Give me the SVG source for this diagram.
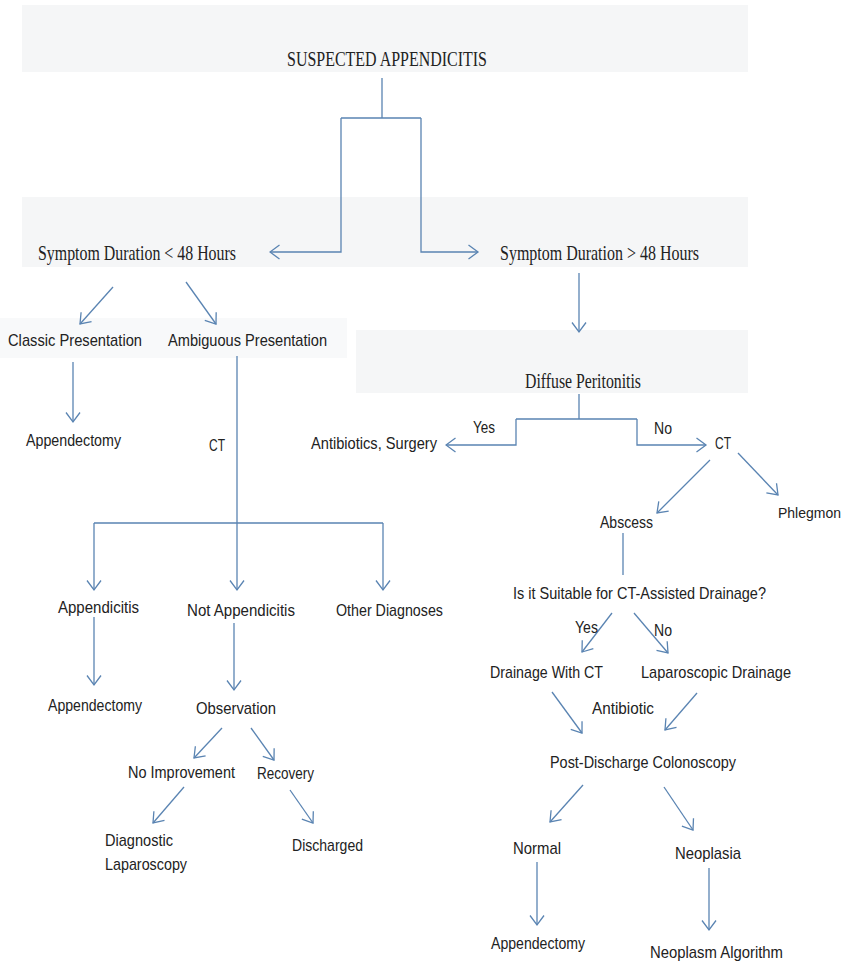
<svg xmlns="http://www.w3.org/2000/svg" width="847" height="963" viewBox="0 0 847 963">
  <style>
    .band { fill: #f5f6f7; }
    .bandf { fill: #f8f9fa; }
    .serif { font-family: "Liberation Serif", "Times New Roman", serif; font-size: 21px; fill: #222222; }
    .sans { font-family: "Liberation Sans", Arial, sans-serif; font-size: 17px; fill: #222222; }
    .small { font-size: 14px; }
    .ln { fill: none; stroke: #5a84b2; stroke-width: 1.3; }
    .arr { fill: none; stroke: #5a84b2; stroke-width: 1.3; marker-end: url(#ah); }
  </style>
  <defs>
    <marker id="ah" viewBox="0 0 12 16" refX="10.5" refY="8" markerWidth="12" markerHeight="16" markerUnits="userSpaceOnUse" orient="auto">
      <path d="M1,1 L10.5,8 L1,15" fill="none" stroke="#5a84b2" stroke-width="1.3"/>
    </marker>
  </defs>

  <rect width="847" height="963" fill="#ffffff"/>

  <!-- shaded background bands -->
  <rect class="band" x="22" y="5" width="726" height="67"/>
  <rect class="band" x="22" y="197" width="726" height="70"/>
  <rect class="bandf" x="0" y="318" width="347" height="40"/>
  <rect class="band" x="356" y="330" width="392" height="63"/>

  <!-- connectors -->
  <g id="connectors">
    <path class="ln" d="M382,78 V118 M341,118 H421"/>
    <path class="arr" d="M341,118 V252 H270"/>
    <path class="arr" d="M421,118 V252 H478"/>

    <path class="arr" d="M113,287 L80,324"/>
    <path class="arr" d="M186,282 L216,324"/>
    <path class="arr" d="M73,362 V422"/>

    <path class="ln" d="M237,356 V523 M94,523 H383"/>
    <path class="arr" d="M94,523 V590"/>
    <path class="arr" d="M237,523 V590"/>
    <path class="arr" d="M383,523 V590"/>
    <path class="arr" d="M94,617 V685"/>
    <path class="arr" d="M234,623 V690"/>
    <path class="arr" d="M222,728 L194,758"/>
    <path class="arr" d="M251,728 L274,760"/>
    <path class="arr" d="M184,787 L153,823"/>
    <path class="arr" d="M290,790 L313,823"/>

    <path class="arr" d="M579,273 V332"/>
    <path class="ln" d="M579,394 V419 M516,419 H637"/>
    <path class="arr" d="M516,419 V445 H446"/>
    <path class="arr" d="M637,419 V445 H706"/>
    <path class="arr" d="M710,460 L657,513"/>
    <path class="arr" d="M738,453 L778,495"/>
    <path class="ln" d="M623,533 V575"/>
    <path class="arr" d="M612,613 L582,652"/>
    <path class="arr" d="M634,613 L668,653"/>
    <path class="arr" d="M552,692 L582,733"/>
    <path class="arr" d="M697,693 L665,730"/>
    <path class="arr" d="M583,785 L550,822"/>
    <path class="arr" d="M664,787 L693,830"/>
    <path class="arr" d="M537,862 V925"/>
    <path class="arr" d="M709,868 V930"/>
  </g>

  <!-- nodes -->
  <g id="n-suspected"><text class="serif" x="287" y="66" textLength="200" lengthAdjust="spacingAndGlyphs">SUSPECTED  APPENDICITIS</text></g>
  <g id="n-lt48"><text class="serif" x="38" y="260" textLength="198" lengthAdjust="spacingAndGlyphs">Symptom Duration &lt; 48  Hours</text></g>
  <g id="n-gt48"><text class="serif" x="500" y="260" textLength="199" lengthAdjust="spacingAndGlyphs">Symptom Duration &gt; 48  Hours</text></g>

  <g id="n-classic"><text class="sans" x="8" y="346" textLength="134" lengthAdjust="spacingAndGlyphs">Classic Presentation</text></g>
  <g id="n-ambiguous"><text class="sans" x="168" y="346" textLength="159" lengthAdjust="spacingAndGlyphs">Ambiguous Presentation</text></g>
  <g id="n-appendectomy1"><text class="sans" x="26" y="446" textLength="95" lengthAdjust="spacingAndGlyphs">Appendectomy</text></g>
  <g id="n-ct1"><text class="sans" x="209" y="451" textLength="16" lengthAdjust="spacingAndGlyphs">CT</text></g>

  <g id="n-appendicitis"><text class="sans" x="58" y="613" textLength="81" lengthAdjust="spacingAndGlyphs">Appendicitis</text></g>
  <g id="n-notappendicitis"><text class="sans" x="187" y="616" textLength="108" lengthAdjust="spacingAndGlyphs">Not Appendicitis</text></g>
  <g id="n-other"><text class="sans" x="336" y="616" textLength="107" lengthAdjust="spacingAndGlyphs">Other Diagnoses</text></g>
  <g id="n-appendectomy2"><text class="sans" x="48" y="711" textLength="94" lengthAdjust="spacingAndGlyphs">Appendectomy</text></g>
  <g id="n-observation"><text class="sans" x="196" y="714" textLength="80" lengthAdjust="spacingAndGlyphs">Observation</text></g>
  <g id="n-noimprovement"><text class="sans" x="128" y="778" textLength="107" lengthAdjust="spacingAndGlyphs">No Improvement</text></g>
  <g id="n-recovery"><text class="sans" x="257" y="779" textLength="57" lengthAdjust="spacingAndGlyphs">Recovery</text></g>
  <g id="n-diaglap">
    <text class="sans" x="105" y="846" textLength="68" lengthAdjust="spacingAndGlyphs">Diagnostic</text>
    <text class="sans" x="105" y="870" textLength="82" lengthAdjust="spacingAndGlyphs">Laparoscopy</text>
  </g>
  <g id="n-discharged"><text class="sans" x="292" y="851" textLength="71" lengthAdjust="spacingAndGlyphs">Discharged</text></g>

  <g id="n-peritonitis"><text class="serif" x="525" y="388" textLength="116" lengthAdjust="spacingAndGlyphs">Diffuse  Peritonitis</text></g>
  <g id="l-yes1"><text class="sans" x="473" y="433" textLength="22" lengthAdjust="spacingAndGlyphs">Yes</text></g>
  <g id="l-no1"><text class="sans" x="654" y="434" textLength="18" lengthAdjust="spacingAndGlyphs">No</text></g>
  <g id="n-antisurgery"><text class="sans" x="311" y="449" textLength="126" lengthAdjust="spacingAndGlyphs">Antibiotics, Surgery</text></g>
  <g id="n-ct2"><text class="sans" x="715" y="449" textLength="16" lengthAdjust="spacingAndGlyphs">CT</text></g>
  <g id="n-abscess"><text class="sans" x="600" y="528" textLength="53" lengthAdjust="spacingAndGlyphs">Abscess</text></g>
  <g id="n-phlegmon"><text class="sans small" x="778" y="518" textLength="63" lengthAdjust="spacingAndGlyphs">Phlegmon</text></g>
  <g id="n-suitable"><text class="sans" x="513" y="599" textLength="253" lengthAdjust="spacingAndGlyphs">Is it Suitable for CT-Assisted Drainage?</text></g>
  <g id="l-yes2"><text class="sans" x="575" y="633" textLength="23" lengthAdjust="spacingAndGlyphs">Yes</text></g>
  <g id="l-no2"><text class="sans" x="654" y="636" textLength="18" lengthAdjust="spacingAndGlyphs">No</text></g>
  <g id="n-drainct"><text class="sans" x="490" y="678" textLength="113" lengthAdjust="spacingAndGlyphs">Drainage With CT</text></g>
  <g id="n-lapdrain"><text class="sans" x="641" y="678" textLength="150" lengthAdjust="spacingAndGlyphs">Laparoscopic Drainage</text></g>
  <g id="l-antibiotic"><text class="sans" x="592" y="714" textLength="62" lengthAdjust="spacingAndGlyphs">Antibiotic</text></g>
  <g id="n-colonoscopy"><text class="sans" x="550" y="768" textLength="186" lengthAdjust="spacingAndGlyphs">Post-Discharge Colonoscopy</text></g>
  <g id="n-normal"><text class="sans" x="513" y="854" textLength="48" lengthAdjust="spacingAndGlyphs">Normal</text></g>
  <g id="n-neoplasia"><text class="sans" x="675" y="859" textLength="66" lengthAdjust="spacingAndGlyphs">Neoplasia</text></g>
  <g id="n-appendectomy3"><text class="sans" x="491" y="949" textLength="94" lengthAdjust="spacingAndGlyphs">Appendectomy</text></g>
  <g id="n-neoplasm"><text class="sans" x="650" y="958" textLength="133" lengthAdjust="spacingAndGlyphs">Neoplasm Algorithm</text></g>
</svg>
